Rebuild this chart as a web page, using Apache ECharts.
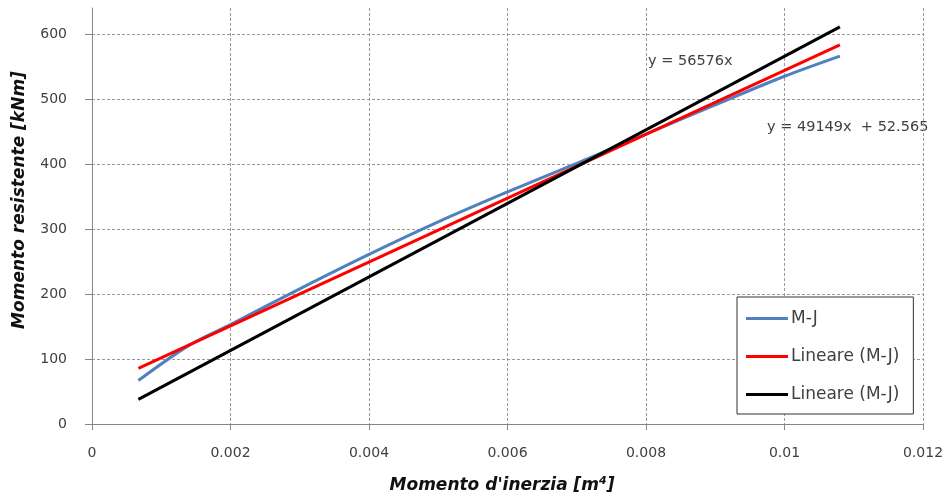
<!DOCTYPE html>
<html>
<head>
<meta charset="utf-8">
<script src="https://cdn.jsdelivr.net/npm/echarts@6/dist/echarts.min.js"></script>
<style>html,body{margin:0;padding:0;background:#fff}#c{width:944px;height:497px}</style>
</head>
<body>
<div id="c"></div>
<script>
// Data
const mjX = [0.00067, 0.0014, 0.002, 0.003, 0.004, 0.005, 0.006, 0.007, 0.008, 0.009, 0.010, 0.0108];
const mjY = [67, 121, 153, 208, 261, 311, 357, 401, 446, 491, 535, 566];
const linX = [0.00067, 0.0108];
const linRedY = [85.5, 583.4];
const linBlackY = [37.9, 611.0];
const seriesNames = ['M-J', 'Lineare (M-J)', 'Lineare (M-J) '];
const eqBlack = 'y = 56576x';
const eqRed = 'y = 49149x  + 52.565';
const xTicks = [0, 0.002, 0.004, 0.006, 0.008, 0.01, 0.012];
const yTicks = [0, 100, 200, 300, 400, 500, 600];

const pair = (xs, ys) => xs.map((x, i) => [x, ys[i]]);
const FONT = 'DejaVu Sans';
const TXT = '#404040';
const chart = echarts.init(document.getElementById('c'), null, {renderer: 'canvas'});
chart.setOption({
  animation: false,
  backgroundColor: '#fff',
  grid: {left: 92, right: 21, top: 8, bottom: 73, containLabel: false, outerBoundsMode: 'none'},
  xAxis: {
    type: 'value', min: xTicks[0], max: xTicks[xTicks.length - 1], interval: 0.002,
    name: "Momento d'inerzia [m{sup|4}]", nameLocation: 'middle', nameGap: 52,
    nameTextStyle: {fontFamily: FONT, fontSize: 17, fontWeight: 'bold', fontStyle: 'italic', color: '#111', padding: [0, 11, 0, 0],
      rich: {sup: {fontFamily: FONT, fontSize: 11, fontWeight: 'bold', fontStyle: 'italic', color: '#111', verticalAlign: 'top', padding: [0, 0, 8, 0]}}},
    axisLine: {lineStyle: {color: '#868686', width: 1}},
    axisTick: {show: true, length: 6, lineStyle: {color: '#868686'}},
    axisLabel: {fontFamily: FONT, fontSize: 14, color: TXT, margin: 22, formatter: v => String(+v.toFixed(4))},
    splitLine: {show: true, lineStyle: {color: '#999', type: [3, 2], width: 1}}
  },
  yAxis: {
    type: 'value', min: yTicks[0], max: 640, interval: 100,
    name: 'Momento resistente [kNm]', nameLocation: 'middle', nameGap: 64, nameRotate: 90,
    nameTextStyle: {fontFamily: FONT, fontSize: 17, fontWeight: 'bold', fontStyle: 'italic', color: '#111', padding: [0, 0, 0, 32]},
    axisLine: {show: true, lineStyle: {color: '#868686', width: 1}},
    axisTick: {show: true, length: 7, lineStyle: {color: '#868686'}},
    axisLabel: {fontFamily: FONT, fontSize: 14, color: TXT, margin: 25, showMaxLabel: false},
    splitLine: {show: true, showMaxLine: false, lineStyle: {color: '#999', type: [3, 2], width: 1}}
  },
  legend: {
    orient: 'vertical', left: 737, top: 297,
    padding: [13, 14, 11, 9], itemGap: 21, itemWidth: 42, itemHeight: 3, icon: 'rect',
    borderColor: '#333', borderWidth: 1, backgroundColor: '#fff',
    textStyle: {fontFamily: FONT, fontSize: 17, color: TXT, padding: [0, 0, 0, -2]},
    formatter: n => n.trim(),
    data: seriesNames
  },
  series: [
    {name: seriesNames[0], type: 'line', data: pair(mjX, mjY), smooth: 0.3, symbol: 'none',
     lineStyle: {color: '#4f81bd', width: 3}, itemStyle: {color: '#4f81bd'}, z: 2},
    {name: seriesNames[1], type: 'line', data: pair(linX, linRedY), symbol: 'none',
     lineStyle: {color: '#ff0000', width: 3}, itemStyle: {color: '#ff0000'}, z: 3},
    {name: seriesNames[2], type: 'line', data: pair(linX, linBlackY), symbol: 'none',
     lineStyle: {color: '#000000', width: 3}, itemStyle: {color: '#000000'}, z: 4}
  ],
  graphic: [
    {type: 'text', left: 648, top: 54, style: {text: eqBlack, fontFamily: FONT, fontSize: 14.5, fill: TXT}},
    {type: 'text', left: 767, top: 120, style: {text: eqRed, fontFamily: FONT, fontSize: 14.5, fill: TXT}}
  ]
});
</script>
</body>
</html>
